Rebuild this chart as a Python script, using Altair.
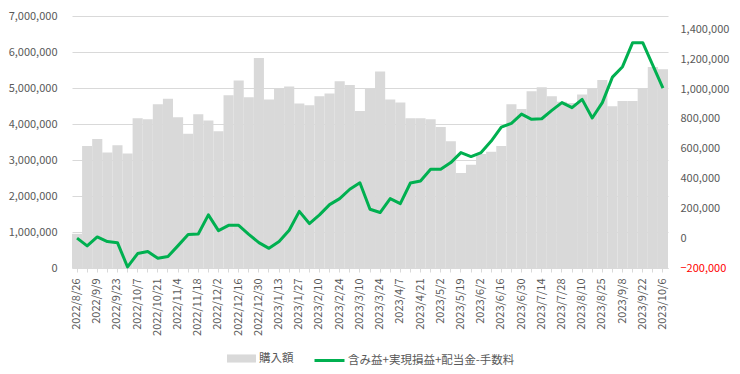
import altair as alt
import pandas as pd

dates = [
    "2022/8/26", "2022/9/2", "2022/9/9", "2022/9/16", "2022/9/23", "2022/9/30",
    "2022/10/7", "2022/10/14", "2022/10/21", "2022/10/28", "2022/11/4", "2022/11/11",
    "2022/11/18", "2022/11/25", "2022/12/2", "2022/12/9", "2022/12/16", "2022/12/23",
    "2022/12/30", "2023/1/6", "2023/1/13", "2023/1/20", "2023/1/27", "2023/2/3",
    "2023/2/10", "2023/2/17", "2023/2/24", "2023/3/3", "2023/3/10", "2023/3/17",
    "2023/3/24", "2023/3/31", "2023/4/7", "2023/4/14", "2023/4/21", "2023/4/28",
    "2023/5/2", "2023/5/12", "2023/5/19", "2023/5/26", "2023/6/2", "2023/6/9",
    "2023/6/16", "2023/6/23", "2023/6/30", "2023/7/7", "2023/7/14", "2023/7/21",
    "2023/7/28", "2023/8/4", "2023/8/10", "2023/8/18", "2023/8/25", "2023/9/1",
    "2023/9/8", "2023/9/15", "2023/9/22", "2023/9/29", "2023/10/6",
]

purchase = [
    950000, 3390000, 3580000, 3210000, 3410000, 3180000, 4160000, 4130000, 4550000, 4700000,
    4190000, 3730000, 4270000, 4100000, 3800000, 4800000, 5210000, 4740000, 5830000, 4680000,
    4970000, 5040000, 4570000, 4520000, 4770000, 4850000, 5190000, 5080000, 4360000, 5000000,
    5460000, 4680000, 4600000, 4160000, 4160000, 4130000, 3920000, 3520000, 2640000, 2870000,
    3170000, 3230000, 3390000, 4550000, 4420000, 4910000, 5020000, 4770000, 4620000, 4580000,
    4820000, 4990000, 5220000, 4490000, 4640000, 4640000, 4990000, 5580000, 5520000,
]

profit = [
    0, -52000, 8000, -23000, -30000, -193000, -103000, -90000, -135000, -123000,
    -50000, 24000, 28000, 156000, 51000, 86000, 86000, 26000, -30000, -68000,
    -23000, 53000, 180000, 98000, 156000, 225000, 265000, 328000, 372000, 194000,
    172000, 265000, 232000, 370000, 383000, 462000, 462000, 507000, 574000, 547000,
    574000, 651000, 745000, 770000, 832000, 797000, 801000, 857000, 909000, 875000,
    931000, 806000, 909000, 1080000, 1150000, 1311000, 1311000, 1159000, 1007000,
]

bar_name = "購入額"
line_name = "含み益+実現損益+配当金-手数料"

df = pd.DataFrame({
    "date": dates,
    "purchase": purchase,
    "profit": profit,
    "s1": bar_name,
    "s2": line_name,
})

FONT = "Noto Sans CJK JP"
GRAY = "#595959"

label_js = "[" + ",".join("'" + d + "'" for d in dates) + "]"
x_enc = alt.X(
    "date:N",
    sort=dates,
    scale=alt.Scale(paddingInner=0, paddingOuter=0),
    axis=alt.Axis(
        title=None,
        labelAngle=-90,
        labelExpr=f"indexof({label_js}, datum.value) % 2 == 0 ? datum.label : ''",
        labelFont=FONT,
        labelFontSize=11,
        labelColor=GRAY,
        labelPadding=6,
        tickColor="#D9D9D9",
        tickSize=4,
        domainColor="#D9D9D9",
        labelOverlap=False,
    ),
)

bars = alt.Chart(df).mark_bar(stroke=None).encode(
    x=x_enc,
    y=alt.Y(
        "purchase:Q",
        scale=alt.Scale(domain=[0, 7000000], nice=False),
        axis=alt.Axis(
            title=None,
            values=list(range(0, 7000001, 1000000)),
            format=",.0f",
            grid=True,
            gridColor="#D9D9D9",
            domain=False,
            ticks=False,
            labelPadding=15,
            labelFont=FONT,
            labelFontSize=11,
            labelColor=GRAY,
            orient="left",
        ),
    ),
    fill=alt.Fill(
        "s1:N",
        scale=alt.Scale(domain=[bar_name], range=["#D9D9D9"]),
        legend=alt.Legend(
            title=None,
            orient="none",
            legendX=155,
            legendY=328,
            symbolType="M-1,-0.28H1V0.28H-1Z",
            symbolSize=841,
            symbolStrokeWidth=0,
            labelFont=FONT,
            labelFontSize=11.5,
            labelColor=GRAY,
            labelOffset=3,
            labelLimit=0,
            padding=0,
        ),
    ),
)

line = alt.Chart(df).mark_line(strokeWidth=3, strokeJoin="round").encode(
    x=x_enc,
    y=alt.Y(
        "profit:Q",
        scale=alt.Scale(domain=[-200000, 1490000], nice=False),
        axis=alt.Axis(
            title=None,
            values=list(range(-200000, 1400001, 200000)),
            format=",.0f",
            grid=False,
            domain=False,
            ticks=False,
            labelPadding=12,
            labelFont=FONT,
            labelFontSize=11,
            labelColor={"condition": {"test": "datum.value < 0", "value": "#FF0000"}, "value": GRAY},
            orient="right",
        ),
    ),
    stroke=alt.Stroke(
        "s2:N",
        scale=alt.Scale(domain=[line_name], range=["#00B050"]),
        legend=alt.Legend(
            title=None,
            orient="none",
            legendX=241,
            legendY=328,
            symbolType="stroke",
            symbolSize=900,
            symbolStrokeWidth=3,
            labelFont=FONT,
            labelFontSize=11.5,
            labelColor=GRAY,
            labelOffset=2,
            labelLimit=0,
            padding=0,
        ),
    ),
)

chart = alt.layer(bars, line).resolve_scale(
    y="independent", fill="independent", stroke="independent"
).properties(
    width=596,
    height=252,
    autosize=alt.AutoSizeParams(type="none"),
    padding={"left": 64, "top": 8, "right": 64, "bottom": 98},
    background="white",
).configure_view(stroke=None)

chart.save("out.html", embed_options={"renderer": "svg", "actions": False})
